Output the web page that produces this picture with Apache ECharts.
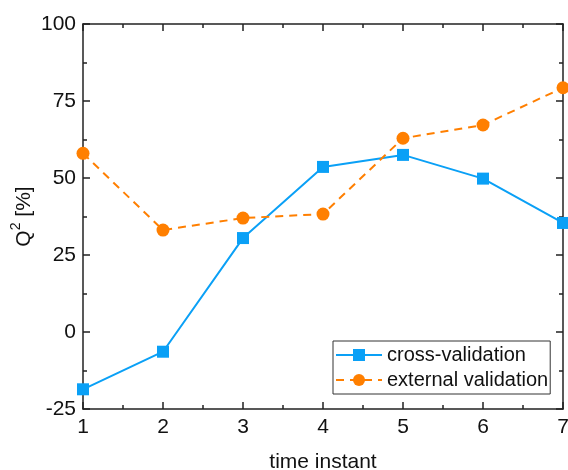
<!DOCTYPE html>
<html>
<head>
<meta charset="utf-8">
<script src="https://cdn.jsdelivr.net/npm/echarts@6/dist/echarts.min.js"></script>
<style>
  html, body { margin: 0; padding: 0; background: #fff; }
  #chart { width: 568px; height: 470px; }
</style>
</head>
<body>
<div id="chart"></div>
<script>
// time instants and Q² values (%)
const timeInstants = [1, 2, 3, 4, 5, 6, 7]
const crossValidation = [-18.6, -6.4, 30.5, 53.6, 57.5, 49.8, 35.4]
const externalValidation = [58.0, 33.1, 37.0, 38.3, 62.9, 67.2, 79.3]

const blue = '#0aa0f6'
const orange = '#ff7f00'
const axisColor = '#222'
const font = 'Liberation Sans, Arial, sans-serif'

const chart = echarts.init(document.getElementById('chart'))

// ticks shared by all four frame sides
const frameAxis = {
  axisLine: { show: true, onZero: false, lineStyle: { color: axisColor, width: 1.5 } },
  axisTick: { show: true, inside: true, length: 7, lineStyle: { color: axisColor, width: 1.5 } },
  minorTick: { show: true, splitNumber: 2, length: 4, lineStyle: { color: axisColor, width: 1.5 } },
  splitLine: { show: false },
  minorSplitLine: { show: false }
}

chart.setOption({
  animation: false,
  grid: { left: 83, right: 5, top: 24, bottom: 61, outerBoundsMode: 'none', containLabel: false },
  xAxis: [
    {
      type: 'value', min: 1, max: 7, interval: 1, position: 'bottom',
      name: 'time instant', nameLocation: 'middle', nameGap: 43,
      nameTextStyle: { color: '#111', fontSize: 21, fontFamily: font },
      axisLabel: { color: '#111', fontSize: 21, fontFamily: font, margin: 8 },
      ...frameAxis
    },
    {
      type: 'value', min: 1, max: 7, interval: 1, position: 'top',
      axisLabel: { show: false },
      ...frameAxis
    }
  ],
  yAxis: [
    {
      type: 'value', min: -25, max: 100, interval: 25, position: 'left',
      name: '{q|Q}{s|2}{q| [%]}', nameLocation: 'middle', nameGap: 48,
      nameMoveOverlap: false,
      nameTextStyle: {
        color: '#111', fontSize: 21, fontFamily: font,
        rich: {
          q: { fontSize: 21, fontFamily: font, color: '#111', lineHeight: 26, verticalAlign: 'bottom' },
          s: { fontSize: 14, fontFamily: font, color: '#111', lineHeight: 26, verticalAlign: 'top' }
        }
      },
      axisLabel: { color: '#111', fontSize: 21, fontFamily: font, margin: 7 },
      ...frameAxis
    },
    {
      type: 'value', min: -25, max: 100, interval: 25, position: 'right',
      axisLabel: { show: false },
      ...frameAxis
    }
  ],
  legend: {
    orient: 'vertical',
    left: 333, top: 341,
    itemWidth: 46, itemHeight: 15, itemGap: 5,
    padding: [4, 2, 4, 2],
    borderColor: '#333', borderWidth: 1, borderRadius: 0,
    backgroundColor: '#fff',
    textStyle: { color: '#111', fontSize: 20, fontFamily: font },
    data: ['cross-validation', 'external validation']
  },
  series: [
    {
      name: 'cross-validation',
      type: 'line',
      xAxisIndex: 0, yAxisIndex: 0,
      data: timeInstants.map((t, i) => [t, crossValidation[i]]),
      symbol: 'rect', symbolSize: 12,
      clip: false,
      lineStyle: { color: blue, width: 2 },
      itemStyle: { color: blue }
    },
    {
      name: 'external validation',
      type: 'line',
      xAxisIndex: 0, yAxisIndex: 0,
      data: timeInstants.map((t, i) => [t, externalValidation[i]]),
      symbol: 'circle', symbolSize: 13,
      clip: false,
      lineStyle: { color: orange, width: 2, type: [8, 6] },
      itemStyle: { color: orange }
    }
  ]
})
</script>
</body>
</html>
